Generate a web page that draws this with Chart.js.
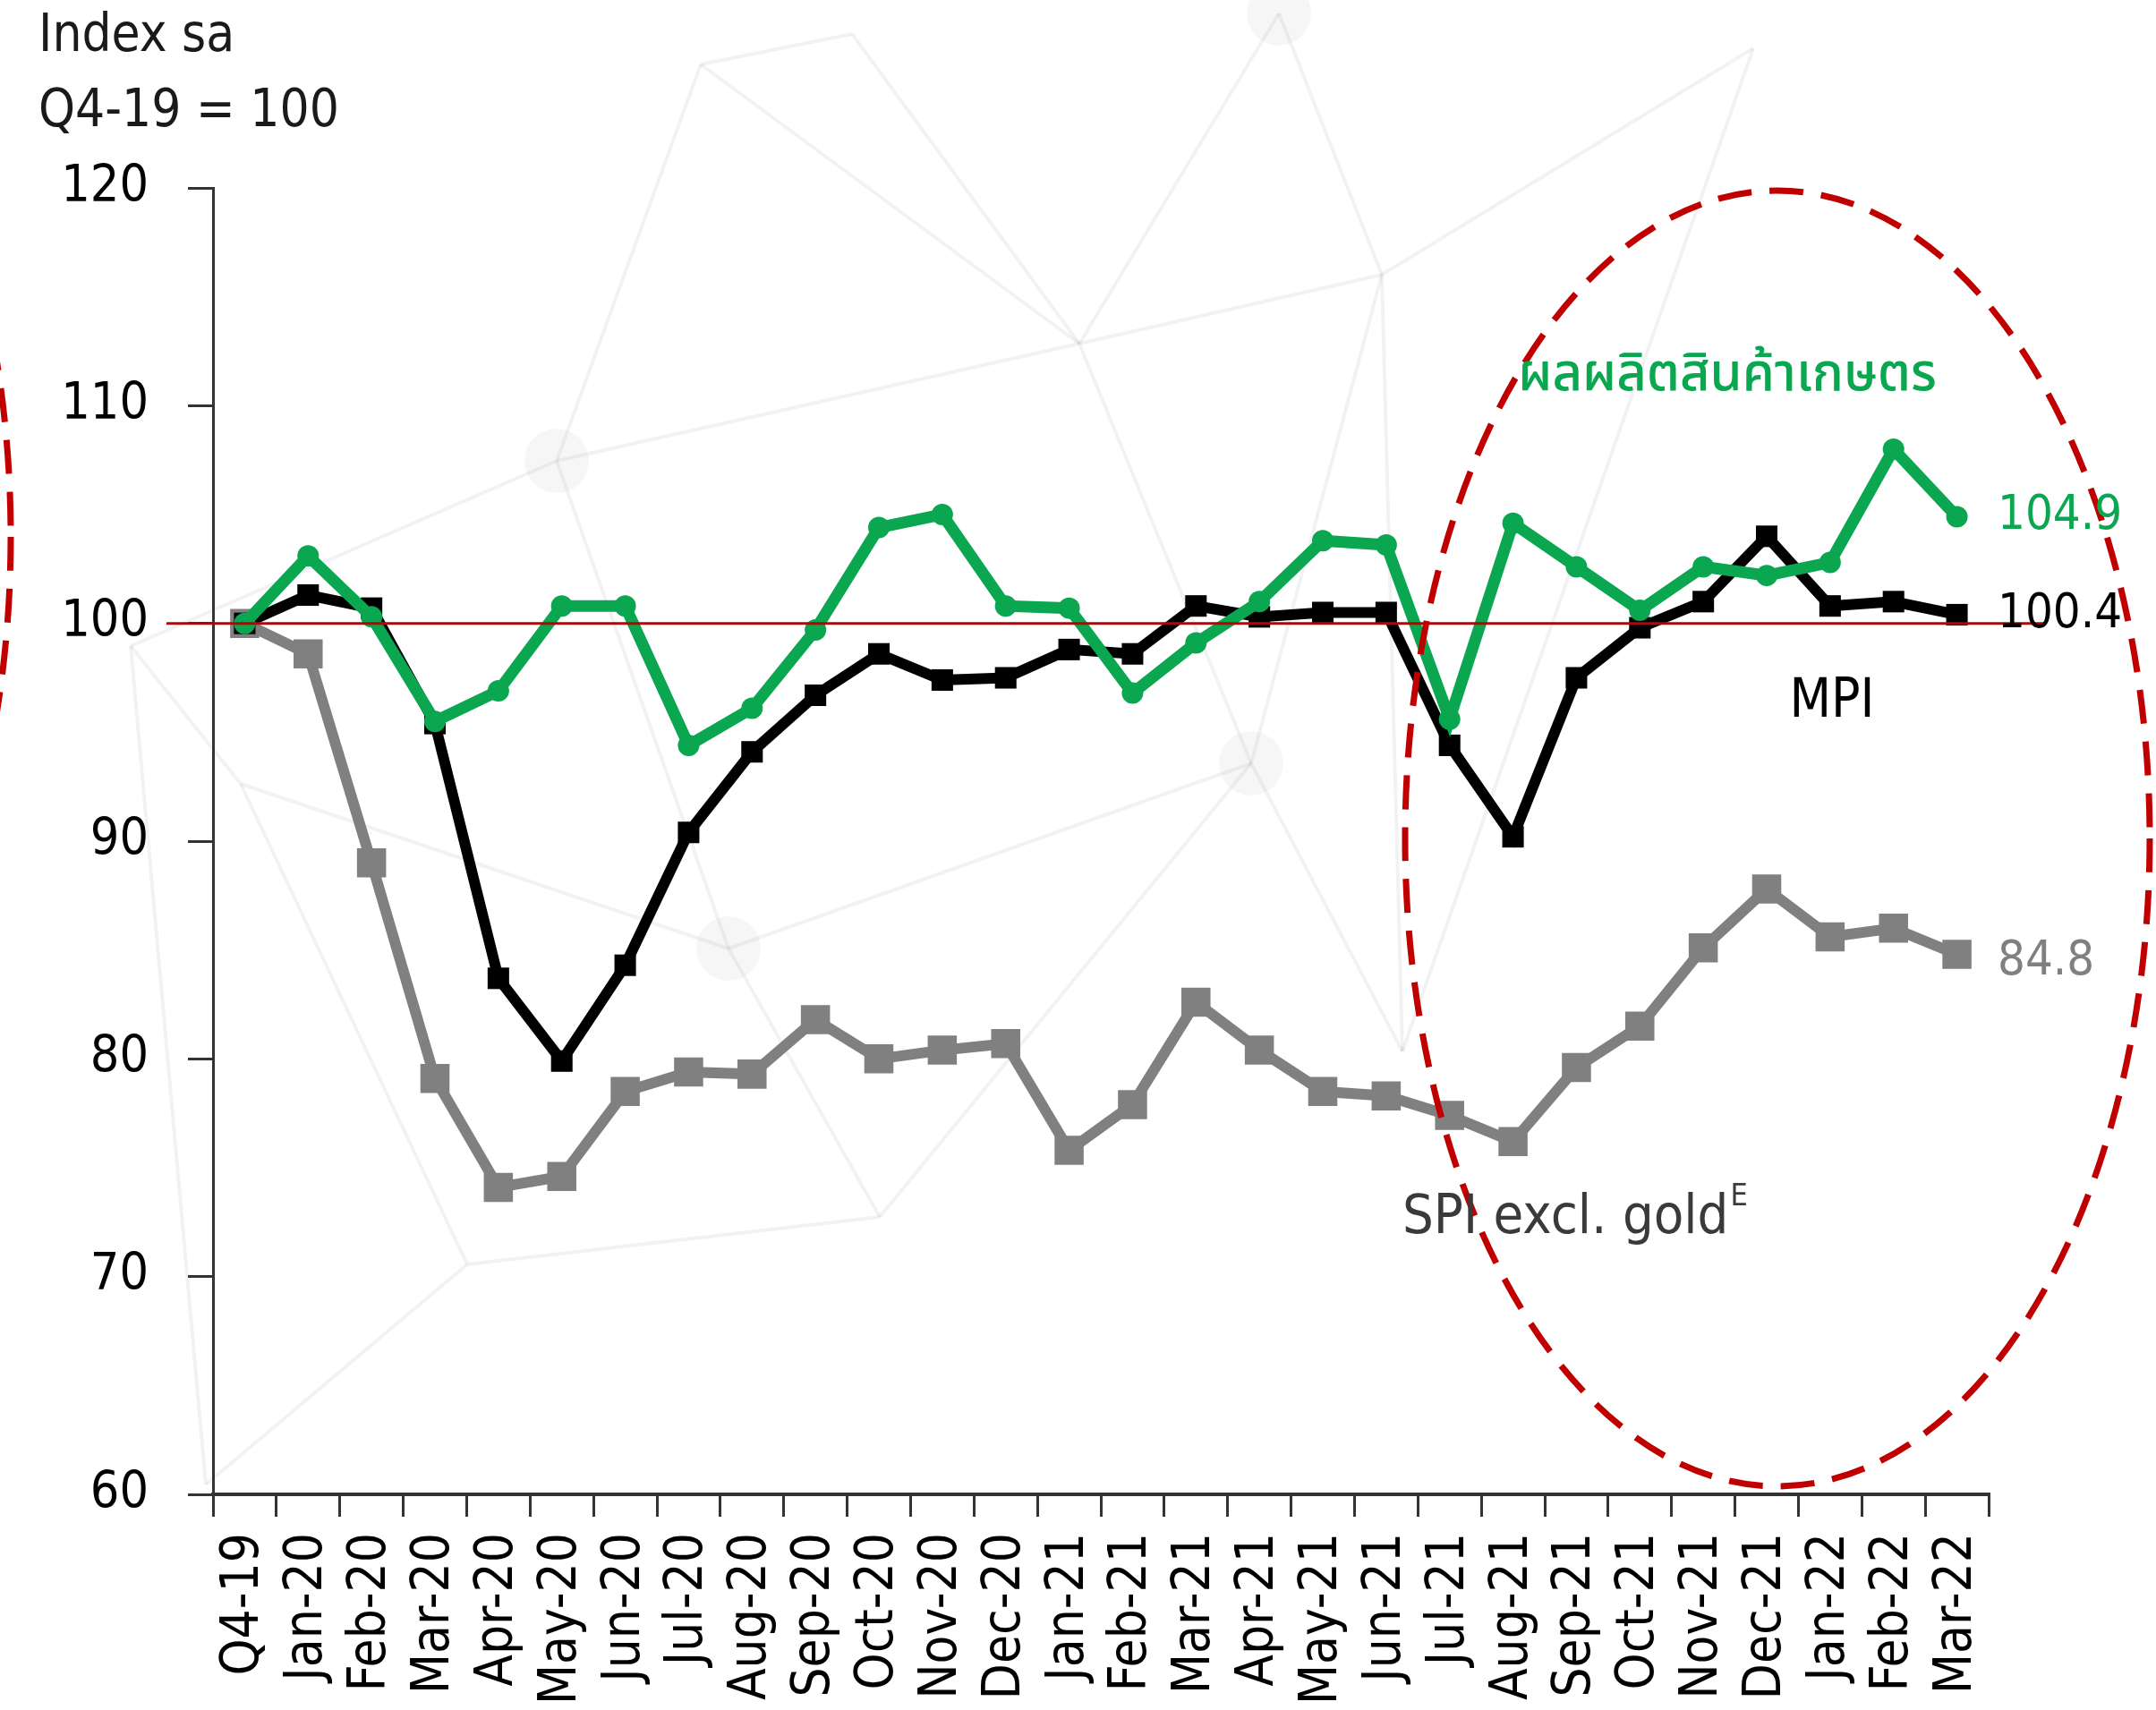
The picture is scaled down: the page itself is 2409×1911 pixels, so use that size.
<!DOCTYPE html>
<html>
<head>
<meta charset="utf-8">
<script src="https://cdn.jsdelivr.net/npm/chart.js@4.4.1/dist/chart.umd.min.js"></script>
<style>
  html, body { margin: 0; padding: 0; background: #fff; }
  #wrap { width: 2409px; height: 1911px; position: relative; }
</style>
</head>
<body>
<div id="wrap"><canvas id="chart"></canvas></div>
<script>
// Data (index, sa, Q4-19 = 100)
const categories = ['Q4-19',
  'Jan-20', 'Feb-20', 'Mar-20', 'Apr-20', 'May-20', 'Jun-20', 'Jul-20', 'Aug-20', 'Sep-20', 'Oct-20', 'Nov-20', 'Dec-20',
  'Jan-21', 'Feb-21', 'Mar-21', 'Apr-21', 'May-21', 'Jun-21', 'Jul-21', 'Aug-21', 'Sep-21', 'Oct-21', 'Nov-21', 'Dec-21',
  'Jan-22', 'Feb-22', 'Mar-22'];

const agriValues = [100, 103.1, 100.3, 95.5, 96.9, 100.8, 100.8, 94.4, 96.1, 99.7, 104.4, 105.0, 100.8,
  100.7, 96.8, 99.1, 101.0, 103.8, 103.6, 95.6, 104.6, 102.6, 100.6, 102.6, 102.2,
  102.8, 108.0, 104.9];

const mpiValues = [100, 101.3, 100.7, 95.4, 83.7, 79.9, 84.3, 90.4, 94.1, 96.7, 98.6, 97.4, 97.5,
  98.8, 98.6, 100.8, 100.3, 100.5, 100.5, 94.4, 90.2, 97.5, 99.8, 101.0, 104.0,
  100.8, 101.0, 100.4];

const spiValues = [100, 98.6, 89.0, 79.1, 74.1, 74.6, 78.5, 79.4, 79.3, 81.8, 80.0, 80.4, 80.7,
  75.8, 77.9, 82.6, 80.4, 78.5, 78.3, 77.4, 76.2, 79.6, 81.5, 85.1, 87.8,
  85.6, 86.0, 84.8];

const yTickValues = [60, 70, 80, 90, 100, 110, 120];
const baseLineValue = 100;

// Colours and fonts
const GREEN = '#0aa650';
const BLACK = '#000000';
const GRAY = '#808080';
const RED = '#c00000';
const AXIS = '#333333';
const LATIN = '"DejaVu Sans Condensed", "DejaVu Sans", sans-serif';
const THAI = '"Noto Sans Thai", "Noto Sans Thai Looped", "Noto Sans", sans-serif';

Chart.defaults.font.family = LATIN;
Chart.defaults.color = '#1a1a1a';

// Faint network pattern of the slide background
const netNodes = [[783, 72], [952, 38], [1429, 15], [1959, 54], [1544, 307], [1206, 384], [622, 515],
  [146, 722], [269, 876], [814, 1060], [1398, 853], [522, 1413], [983, 1360], [1567, 1175], [230, 1659]];
const netEdges = [[0, 6], [0, 5], [0, 1], [1, 5], [2, 4], [2, 5], [3, 4], [4, 5], [4, 10], [5, 10], [6, 7],
  [6, 9], [6, 5], [7, 8], [8, 9], [8, 11], [9, 10], [9, 12], [10, 12], [10, 13], [11, 12], [11, 14],
  [7, 14], [4, 13], [3, 13]];

const backdrop = {
  id: 'backdrop',
  beforeDraw(chart) {
    const ctx = chart.ctx;
    ctx.save();
    ctx.strokeStyle = 'rgba(0,0,0,0.05)';
    ctx.lineWidth = 4;
    netEdges.forEach(([a, b]) => {
      ctx.beginPath();
      ctx.moveTo(netNodes[a][0], netNodes[a][1]);
      ctx.lineTo(netNodes[b][0], netNodes[b][1]);
      ctx.stroke();
    });
    ctx.fillStyle = 'rgba(0,0,0,0.035)';
    [2, 6, 9, 10].forEach(i => {
      ctx.beginPath();
      ctx.arc(netNodes[i][0], netNodes[i][1], 36, 0, Math.PI * 2);
      ctx.fill();
    });
    ctx.restore();
  }
};

// Titles on the upper left
const unitTitle = {
  id: 'unitTitle',
  afterDraw(chart) {
    const ctx = chart.ctx;
    ctx.save();
    ctx.fillStyle = '#1a1a1a';
    ctx.font = '58px ' + LATIN;
    ctx.textBaseline = 'middle';
    ctx.fillText('Index sa', 43, 42);
    ctx.fillText('Q4-19 = 100', 43, 126);
    ctx.restore();
  }
};

// Red line at 100, drawn over the series
const baseLine = {
  id: 'baseLine',
  afterDatasetsDraw(chart) {
    const { ctx, scales: { y }, chartArea } = chart;
    const py = y.getPixelForValue(baseLineValue);
    ctx.save();
    ctx.strokeStyle = RED;
    ctx.lineWidth = 3;
    ctx.beginPath();
    ctx.moveTo(chartArea.left - 52, py);
    ctx.lineTo(chartArea.right + 62, py);
    ctx.stroke();
    ctx.restore();
  }
};

// Dashed ellipses that highlight the recent months
const highlight = {
  id: 'highlight',
  afterDraw(chart) {
    const ctx = chart.ctx;
    ctx.save();
    ctx.strokeStyle = RED;
    ctx.lineWidth = 7;
    ctx.setLineDash([38, 20]);
    ctx.beginPath();
    ctx.ellipse(1986, 937, 416, 724, 0, 0, Math.PI * 2);
    ctx.stroke();
    ctx.beginPath();
    ctx.ellipse(-404, 600, 416, 724, 0, 0, Math.PI * 2);
    ctx.stroke();
    ctx.restore();
  }
};

// Series names and last values
const seriesLabels = {
  id: 'seriesLabels',
  afterDraw(chart) {
    const { ctx, scales: { y }, chartArea } = chart;
    const last = categories.length - 1;
    ctx.save();
    ctx.textBaseline = 'middle';

    ctx.font = '54px ' + LATIN;
    ctx.fillStyle = GREEN;
    ctx.fillText(agriValues[last].toFixed(1), chartArea.right + 10, y.getPixelForValue(agriValues[last]));
    ctx.fillStyle = BLACK;
    ctx.fillText(mpiValues[last].toFixed(1), chartArea.right + 10, y.getPixelForValue(mpiValues[last]));
    ctx.fillStyle = GRAY;
    ctx.fillText(spiValues[last].toFixed(1), chartArea.right + 10, y.getPixelForValue(spiValues[last]) + 8);

    ctx.font = '500 58px ' + THAI;
    ctx.fillStyle = GREEN;
    ctx.textAlign = 'center';
    ctx.fillText('ผลผลิตสินค้าเกษตร', 1930, 424);

    ctx.font = '60px ' + LATIN;
    ctx.fillStyle = BLACK;
    ctx.fillText('MPI', 2047, 785);

    ctx.textAlign = 'left';
    ctx.fillStyle = '#3a3a3a';
    ctx.font = '61px ' + LATIN;
    ctx.fillText('SPI excl. gold', 1567, 1362);
    const w = ctx.measureText('SPI excl. gold').width;
    ctx.font = '34px ' + LATIN;
    ctx.fillText('E', 1567 + w + 2, 1338);
    ctx.restore();
  }
};

new Chart(document.getElementById('chart'), {
  type: 'line',
  data: {
    labels: categories,
    datasets: [
      {
        label: 'ผลผลิตสินค้าเกษตร',
        data: agriValues,
        borderColor: GREEN,
        backgroundColor: GREEN,
        borderWidth: 13,
        pointStyle: 'circle',
        pointRadius: 12,
        pointBorderWidth: 0
      },
      {
        label: 'MPI',
        data: mpiValues,
        borderColor: BLACK,
        backgroundColor: BLACK,
        borderWidth: 12,
        pointStyle: 'rect',
        pointRadius: 17,
        pointBorderWidth: 0
      },
      {
        label: 'SPI excl. gold',
        data: spiValues,
        borderColor: GRAY,
        backgroundColor: GRAY,
        borderWidth: 12,
        pointStyle: 'rect',
        pointRadius: 23,
        pointBorderWidth: 0
      }
    ]
  },
  options: {
    responsive: true,
    maintainAspectRatio: false,
    devicePixelRatio: 1,
    animation: false,
    events: [],
    layout: { padding: { top: 210, right: 187, left: 0, bottom: 0 } },
    elements: { line: { tension: 0 } },
    plugins: {
      legend: { display: false },
      tooltip: { enabled: false }
    },
    scales: {
      x: {
        type: 'category',
        offset: true,
        grid: {
          offset: true,
          drawOnChartArea: false,
          tickLength: 25,
          color: AXIS,
          lineWidth: 3
        },
        border: { color: AXIS, width: 4 },
        ticks: {
          autoSkip: false,
          minRotation: 90,
          maxRotation: 90,
          padding: 18,
          color: '#000',
          font: { size: 58 }
        },
        afterFit(scale) { scale.height = 241; }
      },
      y: {
        min: 60,
        max: 120,
        afterBuildTicks(scale) {
          scale.ticks = yTickValues.map(v => ({ value: v }));
        },
        grid: {
          drawOnChartArea: false,
          tickLength: 28,
          color: AXIS,
          lineWidth: 3
        },
        border: { color: AXIS, width: 3 },
        ticks: {
          padding: 44,
          color: '#000',
          font: { size: 57 }
        },
        afterFit(scale) { scale.width = 238; }
      }
    }
  },
  plugins: [backdrop, unitTitle, baseLine, highlight, seriesLabels]
});
</script>
</body>
</html>
